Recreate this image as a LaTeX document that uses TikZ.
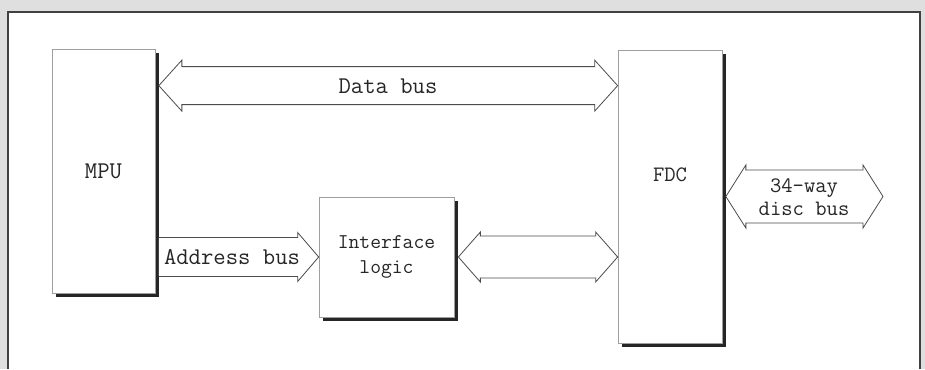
\documentclass[tikz,border=0pt]{standalone}
\usepackage{tikz}
\usetikzlibrary{calc, shadows}

% fat outlined bus arrow, heads at both ends (y taken from the start point)
\newcommand{\busdouble}[5]{%
  \draw[bus] let \p1=(#1), \p2=(#2) in
    (\x1,\y1) -- (\x1+#5pt,\y1+#4pt) -- (\x1+#5pt,\y1+#3pt)
    -- (\x2-#5pt,\y1+#3pt) -- (\x2-#5pt,\y1+#4pt) -- (\x2,\y1)
    -- (\x2-#5pt,\y1-#4pt) -- (\x2-#5pt,\y1-#3pt)
    -- (\x1+#5pt,\y1-#3pt) -- (\x1+#5pt,\y1-#4pt) -- cycle;}
% fat outlined bus arrow, head at the end only
\newcommand{\bussingle}[5]{%
  \draw[bus] let \p1=(#1), \p2=(#2) in
    (\x1,\y1+#3pt) -- (\x2-#5pt,\y1+#3pt) -- (\x2-#5pt,\y1+#4pt) -- (\x2,\y1)
    -- (\x2-#5pt,\y1-#4pt) -- (\x2-#5pt,\y1-#3pt) -- (\x1,\y1-#3pt);}

\begin{document}
\begin{tikzpicture}[
    x=1pt, y=1pt,
    unit/.style={
        rectangle,
        draw=gray!75,
        fill=white,
        line width=0.7pt,
        drop shadow={shadow xshift=3.5pt, shadow yshift=-4pt, fill=black!85, opacity=1},
        align=center,
        font=\ttfamily\fontsize{23}{25}\selectfont,
        text=black!85
    },
    bus/.style={
        draw=gray!60!black,
        line width=0.8pt,
        fill=white,
        line join=miter
    },
    buslabel/.style={
        align=center,
        font=\ttfamily\fontsize{22}{23}\selectfont,
        text=black!85
    },
    frameline/.style={draw=black!75, line width=1.8pt}
]

    % =========================================================
    % PAGE AND FRAME
    % =========================================================
    \useasboundingbox (0,0) rectangle (925,369);
    \fill[gray!25] (0,0) rectangle (925,369);
    \fill[white] (8,0) rectangle (920,357);
    \draw[frameline] (8,0) -- (8,357) -- (920,357) -- (920,0);

    % =========================================================
    % UNITS
    % =========================================================
    \node[unit, minimum width=103pt, minimum height=244pt,
        font=\ttfamily\fontsize{24}{25}\selectfont] (mpu) at (103.5,198) {MPU};

    \node[unit, minimum width=104pt, minimum height=293pt,
        label={[buslabel, yshift=22pt]center:FDC}] (fdc) at (670,172.5) {};

    \node[unit, minimum width=135pt, minimum height=120pt,
        font=\ttfamily\fontsize{21}{25}\selectfont] (iface) at (386.5,112) {Interface\\logic};

    % =========================================================
    % BUS CONNECTIONS
    % =========================================================
    \coordinate (datastart) at ([shift={(3.5pt,-37pt)}]mpu.north east);
    \coordinate (addrstart) at (mpu.east |- iface.west);
    \coordinate (discend) at (883,172);

    \busdouble{datastart}{fdc.west}{19}{25.5}{23}
    \node[buslabel, font=\ttfamily\fontsize{24}{25}\selectfont] (datalabel) at (388,283) {Data bus};

    \bussingle{[xshift=3.5pt]addrstart}{iface.west}{19.5}{24.5}{21}
    \node[buslabel, font=\ttfamily\fontsize{24}{25}\selectfont] (addrlabel) at (232,112) {Address bus};

    \busdouble{[xshift=4pt]iface.east}{fdc.west}{21}{25}{22}

    \busdouble{[xshift=3.5pt]fdc.east}{discend}{26.5}{31.5}{20}
    \node[buslabel] (disclabel) at (804,172) {34-way\\disc bus};

\end{tikzpicture}
\end{document}
